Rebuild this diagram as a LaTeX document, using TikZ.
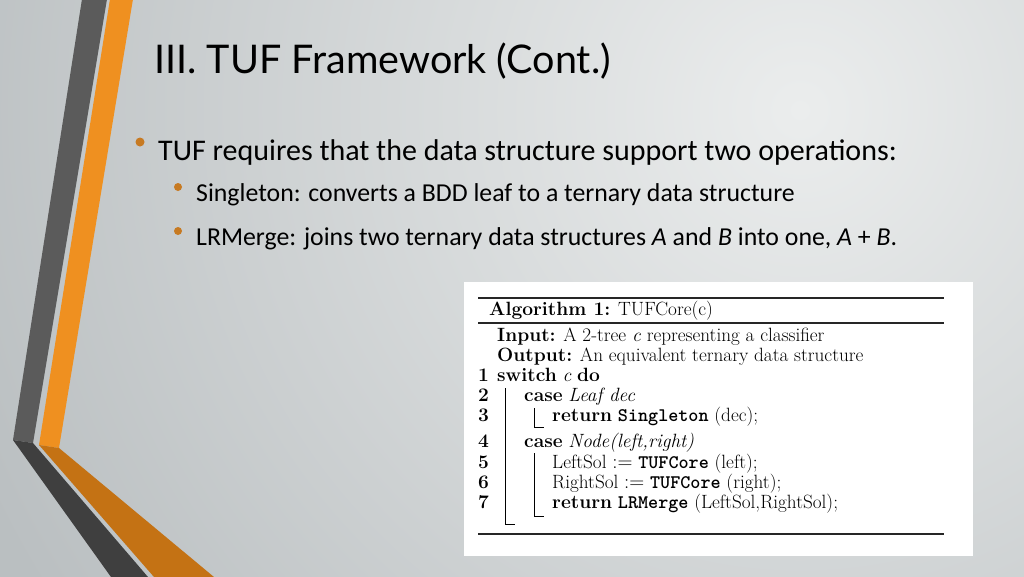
\documentclass[tikz,border=0pt]{standalone}
\usepackage{fontspec}
\newfontfamily\bodyfont{Carlito}
\newfontfamily\titlefont{Lato}
\definecolor{bgin}{HTML}{EBEDED}
\definecolor{bgout}{HTML}{BABFC1}
\definecolor{greyup}{HTML}{5B5B5B}
\definecolor{greylo}{HTML}{3F3F3F}
\definecolor{orup}{HTML}{EF9020}
\definecolor{orlo}{HTML}{C47214}
\definecolor{dotc}{HTML}{C77A22}
\tikzset{
  txt/.style={anchor=base west, inner sep=0pt},
  dotmark/.style={circle, fill=dotc, inner sep=0pt, minimum size=#1},
  alg/.style={txt, font=\fontsize{19.2}{20}\selectfont},
  rulebar/.style={line width=1.8pt, draw=black!85},
  blockbar/.style={line width=0.8pt, draw=black},
}
\begin{document}
\begin{tikzpicture}[x=1pt,y=-1pt]
\useasboundingbox (0,0) rectangle (1024,576);
% background
\begin{scope}
\clip (-2,-2) rectangle (1026,578);
\fill[bgout] (-2,-2) rectangle (1026,578);
\shade[inner color=bgin, outer color=bgout] (800,110) circle (900);
\end{scope}
% decorative bands
\fill[greyup] (82,-1) -- (107,-1) -- (33,443) -- (13,440) -- cycle;
\fill[greylo] (13,440) -- (33,443) -- (148,577) -- (111,577) -- cycle;
\fill[orup] (110,-1) -- (133,-1) -- (59,448) -- (39,445) -- cycle;
\fill[orlo] (39,445) -- (59,448) -- (214,577) -- (154,577) -- cycle;
% title
\node[txt, font=\titlefont\fontsize{39.5}{46}\selectfont] (title) at (154,73) {III. TUF Framework (Cont.)};
% bullets
\node[dotmark=9pt] (d1) at (140,142) {};
\node[txt, font=\bodyfont\fontsize{30}{36}\selectfont] (b1) at (158,160) {TUF requires that the data structure support two operations:};
\node[dotmark=8pt] (d2) at (178,187) {};
\node[txt, font=\bodyfont\fontsize{25.8}{30}\selectfont] (b2) at (196,201) {Singleton: converts a BDD leaf to a ternary data structure};
\node[dotmark=8pt] (d3) at (178,231) {};
\node[txt, font=\bodyfont\fontsize{25.8}{30}\selectfont] (b3) at (196,245) {LRMerge: joins two ternary data structures \textit{A} and \textit{B} into one, \textit{A} + \textit{B}.};
% algorithm box
\node[fill=white, inner sep=0pt, minimum width=509pt, minimum height=274pt, anchor=north west] (box) at (464,282) {};
\draw[rulebar] (478,298) -- (944,298);
\draw[line width=1.5pt, draw=black!85] (478,323) -- (944,323);
\draw[rulebar] (478,534) -- (944,534);
\node[alg] (ah) at (489,315) {\textbf{Algorithm 1:} TUFCore(c)};
\node[alg] (ain) at (497,341) {\textbf{Input:} A 2-tree \textit{c} representing a classifier};
\node[alg] (aout) at (497,361) {\textbf{Output:} An equivalent ternary data structure};
\node[alg] (n1) at (478,381) {\textbf{1}};
\node[alg] (l1) at (497,381) {\textbf{switch} \textit{c} \textbf{do}};
\node[alg] (n2) at (478,401) {\textbf{2}};
\node[alg] (l2) at (524,401) {\textbf{case} \textit{Leaf dec}};
\node[alg] (n3) at (478,421) {\textbf{3}};
\node[alg] (l3) at (552,421) {\textbf{return} \texttt{\bfseries Singleton} (dec);};
\node[alg] (n4) at (478,447) {\textbf{4}};
\node[alg] (l4) at (524,447) {\textbf{case} \textit{Node(left,right)}};
\node[alg] (n5) at (478,468) {\textbf{5}};
\node[alg] (l5) at (552,468) {LeftSol $:=$ \texttt{\bfseries TUFCore} (left);};
\node[alg] (n6) at (478,488) {\textbf{6}};
\node[alg] (l6) at (552,488) {RightSol $:=$ \texttt{\bfseries TUFCore} (right);};
\node[alg] (n7) at (478,508) {\textbf{7}};
\node[alg] (l7) at (552,508) {\textbf{return} \texttt{\bfseries LRMerge} (LeftSol,RightSol);};
% block bars
\draw[blockbar] (505,388) -- (505,524) -- (515,524);
\draw[blockbar] (534,408) -- (534,427) -- (544,427);
\draw[blockbar] (534,453) -- (534,516) -- (544,516);
\end{tikzpicture}
\end{document}
